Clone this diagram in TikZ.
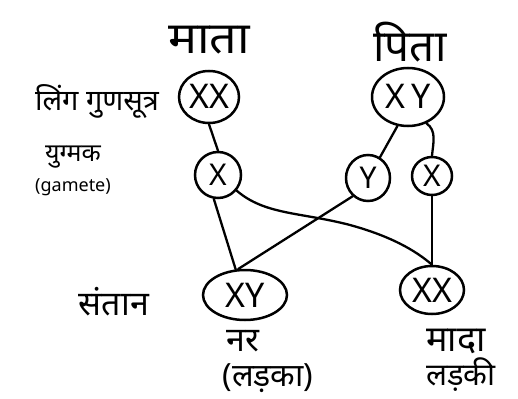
\documentclass[tikz,border=0pt]{standalone}
\usepackage{fontspec}
\setmainfont{Noto Sans}
\newfontfamily\deva[Script=Devanagari]{Noto Sans}
\usetikzlibrary{shapes.geometric}
\tikzset{
  chrom/.style={draw, ellipse, line width=2.5pt, inner sep=0pt, text depth=0pt},
  big/.style={font=\fontsize{34}{36}\selectfont, text height=24pt},
  small/.style={font=\fontsize{30}{32}\selectfont, text height=21pt},
  link/.style={line width=2.3pt, line cap=round},
}
\begin{document}
\begin{tikzpicture}[x=1pt,y=-1pt]
\useasboundingbox[fill=white] (0,0) rectangle (518,398);
% headings
\node[font=\deva\fontsize{44}{46}\selectfont, xscale=1.1] (mata) at (209,40) {माता};
\node[font=\deva\fontsize{44}{46}\selectfont] (pita) at (410,42) {पिता};
% left labels
\node[font=\deva\fontsize{29}{31}\selectfont] (ling) at (97,101) {लिंग गुणसूत्र};
\node[font=\deva\fontsize{25}{27}\selectfont] (yug) at (73,157) {युग्मक};
\node[font=\fontsize{18}{20}\selectfont] (gam) at (73,187) {(gamete)};
\node[font=\deva\fontsize{34}{36}\selectfont] (sant) at (114,302) {संतान};
% parents
\node[chrom, big, minimum width=60pt, minimum height=52pt] (mxx) at (209,97) {XX};
\node[chrom, big, minimum width=72pt, minimum height=58pt] (fxy) at (408,97) {X\,Y};
% gametes
\node[chrom, small, minimum width=46pt, minimum height=46pt] (mx) at (218,175) {X};
\node[chrom, small, minimum width=44pt, minimum height=46pt] (fy) at (368,178) {Y};
\node[chrom, small, minimum width=40pt, minimum height=38pt] (fx) at (432,176) {X};
% offspring
\node[chrom, big, minimum width=84pt, minimum height=50pt] (oxy) at (245,295) {XY};
\node[chrom, big, minimum width=64pt, minimum height=48pt] (oxx) at (432,290) {XX};
% offspring labels
\node[font=\deva\fontsize{34}{36}\selectfont] (nar) at (243,341) {नर};
\node[font=\deva\fontsize{32}{34}\selectfont] (ladka) at (268,378) {(लड़का)};
\node[font=\deva\fontsize{36}{38}\selectfont] (mada) at (456,341) {मादा};
\node[font=\deva\fontsize{31}{33}\selectfont] (ladki) at (461,375) {लड़की};
% connectors
\draw[link] (mxx.south) -- (mx.north);
\draw[link] (fxy.-110) -- (fy.60);
\draw[link] (fxy.-55) to[out=-35,in=85] (fx.north);
\draw[link] (mx.-100) -- (oxy.110);
\draw[link] (fy.-130) -- (oxy.105);
\draw[link] (mx.-40) .. controls (265,215) and (300,212) .. (350,225) .. controls (390,236) and (415,250) .. (oxx.north);
\draw[link] (fx.south) -- (oxx.north);
\end{tikzpicture}
\end{document}
